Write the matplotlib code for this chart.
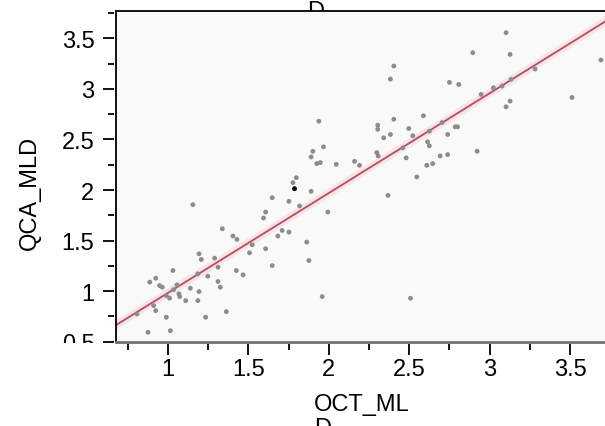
import matplotlib
matplotlib.use("Agg")
import matplotlib.pyplot as plt
import numpy as np
from matplotlib.lines import Line2D
from matplotlib.ticker import MultipleLocator
from matplotlib.transforms import Bbox, TransformedBbox

plt.rcParams['font.family'] = ['Liberation Sans', 'DejaVu Sans']

# OCT_MLD vs QCA_MLD
oct_mld = [0.876, 1.015, 0.990, 1.234, 1.363, 0.807, 0.924, 0.911, 0.887, 0.924,
           0.948, 0.965, 0.990, 1.010, 1.031, 1.056, 1.068, 1.073, 1.035, 1.110,
           1.139, 1.193, 1.186, 1.193, 1.207, 1.186, 1.248, 1.290, 1.311, 1.311,
           1.325, 1.338, 1.404, 1.429, 1.425, 1.467, 1.155, 1.524, 1.507, 1.607,
           1.648, 1.594, 1.607, 1.648, 1.683, 1.710, 1.752, 1.752, 1.787, 1.777,
           1.798, 1.818, 1.863, 1.876, 1.890, 1.890, 1.901, 1.925, 1.947, 1.938,
           1.967, 1.994, 1.959, 2.046, 3.102, 2.895, 3.127, 3.692, 2.404, 2.383,
           2.750, 2.808, 3.282, 3.133, 3.077, 3.023, 2.947, 3.512, 3.127, 3.102,
           2.588, 2.404, 2.704, 2.304, 2.304, 2.497, 2.786, 2.383, 2.341, 2.522,
           2.739, 2.625, 2.614, 2.625, 2.298, 2.307, 2.160, 2.191, 2.460, 2.481,
           2.692, 2.739, 2.609, 2.646, 2.922, 2.547, 2.368, 2.508, 2.800]
qca_mld = [0.593, 0.609, 0.742, 0.742, 0.797, 0.774, 0.807, 0.857, 1.089, 1.128,
           1.055, 1.039, 0.956, 0.930, 1.204, 1.062, 0.973, 0.946, 1.015, 0.906,
           1.029, 0.996, 0.906, 1.369, 1.313, 1.171, 1.148, 1.326, 1.237, 1.095,
           1.039, 1.617, 1.545, 1.511, 1.204, 1.161, 1.855, 1.458, 1.379, 1.419,
           1.253, 1.723, 1.782, 1.924, 1.545, 1.600, 1.584, 1.888, 2.013, 2.073,
           2.122, 1.842, 1.485, 1.303, 1.987, 2.327, 2.383, 2.261, 2.271, 2.680,
           2.427, 1.782, 0.946, 2.254, 3.556, 3.358, 3.341, 3.285, 3.226, 3.097,
           3.064, 3.044, 3.196, 3.094, 3.028, 3.011, 2.945, 2.915, 2.879, 2.823,
           2.734, 2.700, 2.667, 2.641, 2.601, 2.608, 2.625, 2.549, 2.516, 2.536,
           2.549, 2.582, 2.476, 2.437, 2.370, 2.337, 2.284, 2.244, 2.417, 2.318,
           2.337, 2.350, 2.244, 2.261, 2.383, 2.129, 1.947, 0.930, 2.625]
dark_point = (1.787, 2.013)

# fitted line
fit_slope = 0.987
fit_intercept = -0.004

x_range = (0.677, 3.717)
y_range = (0.5, 3.773)

W, H = 605, 427
fig = plt.figure(figsize=(W / 100, H / 100), dpi=100)
ax = fig.add_axes([116 / W, 1 - 342.7 / H, 1 - 116 / W, (342.7 - 11.7) / H])
ax.set_facecolor('#f9f9f9')

ax.scatter(oct_mld, qca_mld, s=12, color='#8c8c8c', edgecolors='none', zorder=3)
ax.scatter([dark_point[0]], [dark_point[1]], s=12, color='#111111', edgecolors='none', zorder=4)

xs = np.array(x_range)
ax.plot(xs, fit_slope * xs + fit_intercept, color='#f3d2d8', lw=6, alpha=0.5, zorder=2)
ax.plot(xs, fit_slope * xs + fit_intercept, color='#b84c5c', lw=1.3, zorder=2)

ax.set_xlim(*x_range)
ax.set_ylim(*y_range)
ax.xaxis.set_minor_locator(MultipleLocator(0.25))
ax.yaxis.set_minor_locator(MultipleLocator(0.25))
ax.set_xticks([1, 1.5, 2, 2.5, 3, 3.5])
ax.set_xticklabels(['1', '1.5', '2', '2.5', '3', '3.5'])
ax.set_yticks([0.5, 1, 1.5, 2, 2.5, 3, 3.5])
ax.set_yticklabels(['0.5', '1', '1.5', '2', '2.5', '3', '3.5'])

# ticks sit a little away from the frame
ax.spines['left'].set_position(('outward', 1.5))
ax.spines['bottom'].set_position(('outward', 2))
for s in ['left', 'bottom', 'right']:
    ax.spines[s].set_visible(False)
ax.spines['top'].set_linewidth(1.3)
ax.add_line(Line2D([0, 0], [0, 1], transform=ax.transAxes, color='black', lw=1.3, clip_on=False, zorder=5))
ax.add_line(Line2D([0, 1], [0, 0], transform=ax.transAxes, color='#707070', lw=2.0, clip_on=False, zorder=5))

ax.tick_params(axis='both', which='major', length=8, width=1.3, labelsize=17, color='black')
ax.tick_params(axis='both', which='minor', length=4, width=1.3, color='black')
ax.tick_params(axis='y', which='major', pad=6)
ax.tick_params(axis='x', which='major', pad=2)

# bottom y label is cut at the frame line in the reference
clip = TransformedBbox(Bbox([[0, 1 - 344 / H], [1, 1]]), fig.transFigure)
lbl = ax.get_yticklabels()[0]
lbl.set_clip_on(True)
lbl.set_clip_box(clip)

fig.text(30 / W, 1 - 193 / H, 'QCA_MLD', rotation=90, ha='center', va='center', fontsize=17)
fig.text(314 / W, 1 - 394 / H, 'OCT_ML\nD', ha='left', va='top', fontsize=17, linespacing=1.12)
fig.text(307 / W, 1 - 1 / H, 'D', ha='left', va='top', fontsize=17, zorder=-1)

fig.savefig('out.png', dpi=100)
